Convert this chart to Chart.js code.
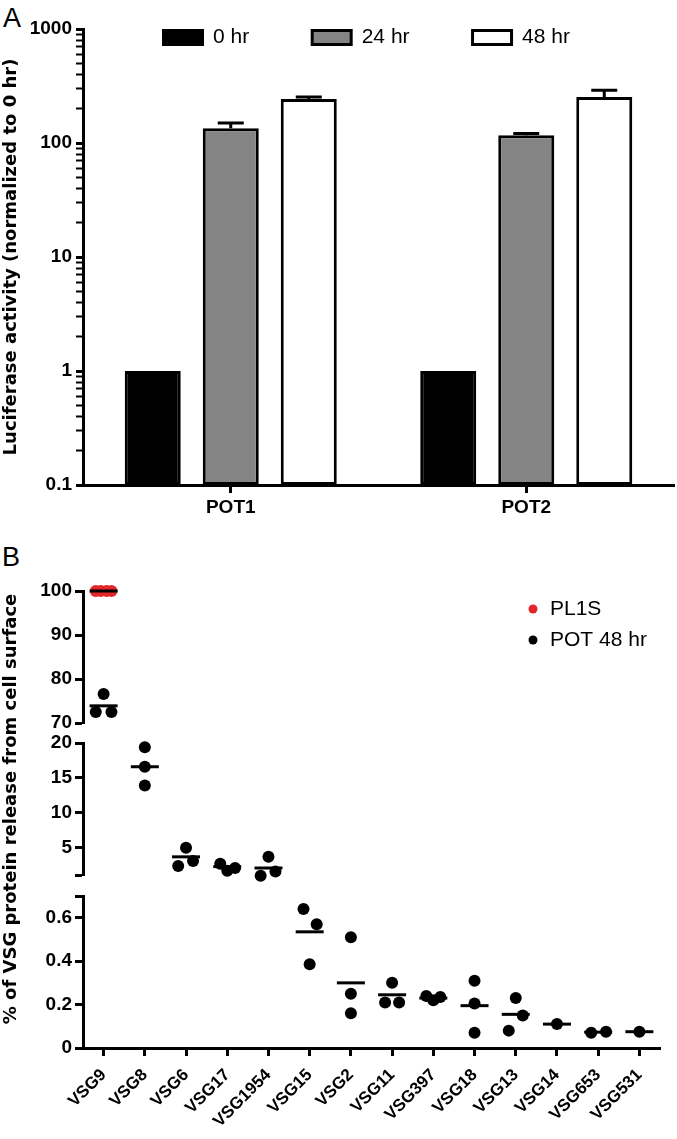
<!DOCTYPE html>
<html><head><meta charset="utf-8">
<script src="https://cdn.jsdelivr.net/npm/chart.js"></script>
<style>
html,body{margin:0;padding:0;background:#fff;width:677px;height:1139px;overflow:hidden;position:relative;}
canvas{position:absolute;left:0;top:0;}
.panel{position:absolute;font-family:'Liberation Sans',Arial,sans-serif;font-size:27px;line-height:1;color:#000;}
</style></head><body>
<div class="panel" style="left:3px;top:5px">A</div>
<div class="panel" style="left:2px;top:544px">B</div>
<canvas id="cA" width="677" height="640"></canvas>
<canvas id="c1" width="677" height="200"></canvas>
<canvas id="c2" width="677" height="540"></canvas>
<canvas id="c3" width="677" height="340"></canvas>
<script>
// ---------- Panel A data ----------
const groupsA = ['POT1', 'POT2'];
const seriesA = ['0 hr', '24 hr', '48 hr'];
const hr0 = [1, 1];
const hr24 = [135, 117];
const hr48 = [243, 253];
const hr0Err = [0, 0];
const hr24Err = [15, 4];
const hr48Err = [10, 37];
const decadesA = [0.1, 1, 10, 100, 1000];

// ---------- Panel B data ----------
const vsgNames = ['VSG9','VSG8','VSG6','VSG17','VSG1954','VSG15','VSG2','VSG11','VSG397','VSG18','VSG13','VSG14','VSG653','VSG531'];
const pot48 = [[76.6,72.5,72.5],[19.4,16.6,13.9],[5.0,2.4,3.1],[2.7,1.7,2.1],[3.7,1.0,1.6],[0.64,0.57,0.386],[0.51,0.25,0.16],[0.30,0.21,0.21],[0.24,0.22,0.235],[0.31,0.205,0.07],[0.23,0.15,0.08],[0.11],[0.07,0.075],[0.075]];
const pot48Spread = [[0,-0.19,0.19],[0,0,0],[0,-0.19,0.17],[-0.17,0,0.19],[0,-0.19,0.17],[-0.15,0.17,0],[0,0,0],[0,-0.17,0.17],[-0.17,0,0.17],[0,0,0],[0,0.17,-0.17],[0],[-0.17,0.19],[0]];
const pot48Mean = [73.9,16.6,3.7,2.3,2.1,0.535,0.30,0.245,0.23,0.195,0.155,0.11,0.073,0.075];
const pl1sCats = ['VSG9'];
const pl1s = [[100,100,100,100]];
const pl1sSpread = [[-0.19,-0.07,0.07,0.19]];
const pl1sMean = [100];
const segTicks = [[70,80,90,100],[5,10,15,20],[0,0.2,0.4,0.6]];
const segRange = [[70,100],[1.1,20],[0,0.7]];

const SANS = "'Liberation Sans', Arial, Helvetica, sans-serif";
const DJ = "'DejaVu Sans', 'Liberation Sans', sans-serif";
Chart.defaults.color = '#000';
Chart.defaults.font.family = SANS;

const allTicksA = [];
decadesA.forEach((d, i) => {
  allTicksA.push(d);
  if (i < decadesA.length - 1) for (let m = 2; m <= 9; m++) allTicksA.push(Number((m * d).toPrecision(6)));
});
const isDec = c => !!(c && c.tick && decadesA.includes(c.tick.value));

const errorBars = {
  id: 'errorBars',
  afterDatasetsDraw(chart) {
    const ctx = chart.ctx, y = chart.scales.y;
    chart.data.datasets.forEach((ds, i) => {
      if (!ds.errors) return;
      chart.getDatasetMeta(i).data.forEach((bar, j) => {
        const e = ds.errors[j];
        if (!e) return;
        const top = y.getPixelForValue(ds.data[j].y + e);
        ctx.save();
        ctx.strokeStyle = '#000'; ctx.lineWidth = 3;
        ctx.beginPath();
        ctx.moveTo(bar.x, bar.y); ctx.lineTo(bar.x, top);
        ctx.moveTo(bar.x - 13, top); ctx.lineTo(bar.x + 13, top);
        ctx.stroke();
        ctx.restore();
      });
    });
  }
};

const legendMover = {
  id: 'legendMover',
  afterLayout(chart, args, o) {
    const lg = chart.legend;
    if (!lg || !o || o.dx === undefined) return;
    const a = chart.chartArea, pad = lg.options.labels.padding;
    const left = a.left + o.dx - pad, top = a.top + o.dy - pad;
    lg.left = left; lg.top = top; lg.right = left + o.w; lg.bottom = top + o.h;
    lg.width = o.w; lg.height = o.h;
  }
};

function place(chart, L, T, R, B) {
  const pad = chart.config.options.layout.padding;
  for (let k = 0; k < 4; k++) {
    const a = chart.chartArea;
    const dw = (a.right - a.left) - (R - L);
    const dh = (a.bottom - a.top) - (B - T);
    if (Math.abs(dw) < 0.05 && Math.abs(dh) < 0.05) break;
    pad.right += dw; pad.bottom += dh;
    chart.update('none');
  }
  const a = chart.chartArea;
  chart.canvas.style.left = (L - a.left) + 'px';
  chart.canvas.style.top = (T - a.top) + 'px';
}

// ---------- Panel A ----------
const barColors = ['#000000', '#848484', '#ffffff'];
const valsA = [hr0, hr24, hr48];
const errsA = [hr0Err, hr24Err, hr48Err];
const chartA = new Chart(document.getElementById('cA'), {
  type: 'bar',
  data: {
    datasets: seriesA.map((s, k) => ({
      label: s,
      data: groupsA.map((g, i) => ({ x: i + 1, y: valsA[k][i] })),
      errors: errsA[k],
      backgroundColor: barColors[k],
      borderColor: '#000',
      borderWidth: 3,
      borderSkipped: false,
      categoryPercentage: 0.792,
      barPercentage: 0.718
    }))
  },
  options: {
    responsive: false, animation: false, events: [],
    layout: { padding: { top: 0, right: 3, bottom: 10, left: 0 } },
    plugins: {
      tooltip: { enabled: false },
      legend: {
        position: 'top', align: 'start',
        labels: { boxWidth: 39, boxHeight: 14, padding: 63, color: '#000', font: { family: SANS, size: 21 } }
      },
      legendMover: { dx: 80.5, dy: -2, w: 677, h: 100 }
    },
    scales: {
      x: {
        type: 'linear', min: 0.5, max: 2.5, offset: false,
        afterBuildTicks: s => { s.ticks = groupsA.map((g, i) => ({ value: i + 1 })); },
        ticks: { autoSkip: false, maxTicksLimit: 1000, maxRotation: 0, padding: 3, font: { size: 19, weight: 'bold' },
          callback: v => groupsA[v - 1] ?? '' },
        grid: { drawOnChartArea: false, offset: false, tickLength: 8, tickWidth: 3, tickColor: '#000' },
        border: { color: '#000', width: 3 }
      },
      y: {
        type: 'logarithmic', min: 0.1, max: 1000, position: 'left',
        afterBuildTicks: s => { s.ticks = allTicksA.map(v => ({ value: v })); },
        afterFit: s => { s.width = 83; },
        ticks: { autoSkip: false, maxTicksLimit: 1000, padding: 4, font: { size: 19, weight: 'bold' },
          callback: v => decadesA.includes(v) ? String(v) : '' },
        grid: { drawOnChartArea: false, tickLength: 7, tickColor: '#000',
          tickWidth: c => isDec(c) ? 3 : 2 },
        border: { color: '#000', width: 3 },
        title: { display: true, text: 'Luciferase activity (normalized to 0 hr)',
          font: { family: DJ, size: 18, weight: 'bold' }, padding: { top: 1, bottom: 0 } }
      }
    }
  },
  plugins: [errorBars, legendMover]
});
place(chartA, 83, 29, 674, 485);

// ---------- Panel B ----------
function segOf(v) { return v >= 50 ? 0 : (v >= 0.9 ? 1 : 2); }

function segChart(id, seg, area, padTop) {
  const [lo, hi] = segRange[seg];
  const inSeg = v => segOf(v) === seg;
  const potPts = [], potMeanPts = [], plPts = [], plMeanPts = [];
  vsgNames.forEach((n, i) => {
    pot48[i].forEach((v, j) => { if (inSeg(v)) potPts.push({ x: i + pot48Spread[i][j], y: v }); });
    if (inSeg(pot48Mean[i])) potMeanPts.push({ x: i, y: pot48Mean[i] });
  });
  pl1sCats.forEach((n, k) => {
    const i = vsgNames.indexOf(n);
    pl1s[k].forEach((v, j) => { if (inSeg(v)) plPts.push({ x: i + pl1sSpread[k][j], y: v }); });
    if (inSeg(pl1sMean[k])) plMeanPts.push({ x: i, y: pl1sMean[k] });
  });
  const meanDs = (label, data) => ({ label, data, clip: false, pointStyle: 'line', pointRadius: 14,
    pointBorderColor: '#000', borderColor: '#000', pointBorderWidth: 3 });
  const dotDs = (label, data, color) => ({ label, data, clip: false, pointStyle: 'circle', pointRadius: 6,
    pointBackgroundColor: color, backgroundColor: color, pointBorderColor: color, borderColor: color, pointBorderWidth: 0 });
  const chart = new Chart(document.getElementById(id), {
    type: 'scatter',
    data: { datasets: [
      meanDs('POT mean', potMeanPts),
      meanDs('PL1S mean', plMeanPts),
      dotDs('PL1S', plPts, '#e2262a'),
      dotDs('POT 48 hr', potPts, '#000000')
    ] },
    options: {
      responsive: false, animation: false, events: [],
      layout: { padding: { top: padTop, right: 10, bottom: 20, left: 0 } },
      plugins: {
        tooltip: { enabled: false },
        legend: seg === 0 ? {
          display: true, position: 'chartArea', align: 'start',
          labels: { usePointStyle: true, boxWidth: 13, boxHeight: 6.36, padding: 10, color: '#000',
            font: { family: SANS, size: 21 }, filter: it => it.datasetIndex >= 2 }
        } : { display: false },
        legendMover: seg === 0 ? { dx: 443.5, dy: 7.5, w: 220, h: 100 } : {}
      },
      scales: {
        x: {
          type: 'linear', min: -0.5, max: vsgNames.length - 0.5, offset: false, display: seg === 2,
          afterBuildTicks: s => { s.ticks = vsgNames.map((n, i) => ({ value: i })); },
          ticks: { autoSkip: false, maxTicksLimit: 1000, minRotation: 45, maxRotation: 45, padding: 9,
            font: { size: 17, weight: 'bold' }, callback: v => vsgNames[v] ?? '' },
          grid: { drawOnChartArea: false, offset: false, tickLength: 8, tickWidth: 3, tickColor: '#000' },
          border: { color: '#000', width: 3 }
        },
        y: {
          type: 'linear', min: lo, max: hi,
          afterBuildTicks: s => { s.ticks = [...new Set([lo, ...segTicks[seg], hi])].sort((a, b) => a - b).map(v => ({ value: v })); },
          afterFit: s => { s.width = 83; },
          ticks: { autoSkip: false, maxTicksLimit: 1000, padding: 3, font: { size: 19, weight: 'bold' },
            callback: v => segTicks[seg].includes(v) ? String(v) : '' },
          grid: { drawOnChartArea: false, tickLength: 8, tickWidth: 3, tickColor: '#000' },
          border: { color: '#000', width: 3 },
          title: seg === 1 ? { display: true, text: '% of VSG protein release from cell surface',
            font: { family: DJ, size: 18, weight: 'bold' }, padding: { top: 1, bottom: 0 } } : { display: false }
        }
      }
    },
    plugins: [legendMover]
  });
  place(chart, area[0], area[1], area[2], area[3]);
  return chart;
}

segChart('c1', 0, [83, 591, 667, 723], 20);
segChart('c2', 1, [83, 743, 667, 875], 190);
segChart('c3', 2, [83, 896, 667, 1048], 20);
</script>
</body></html>
